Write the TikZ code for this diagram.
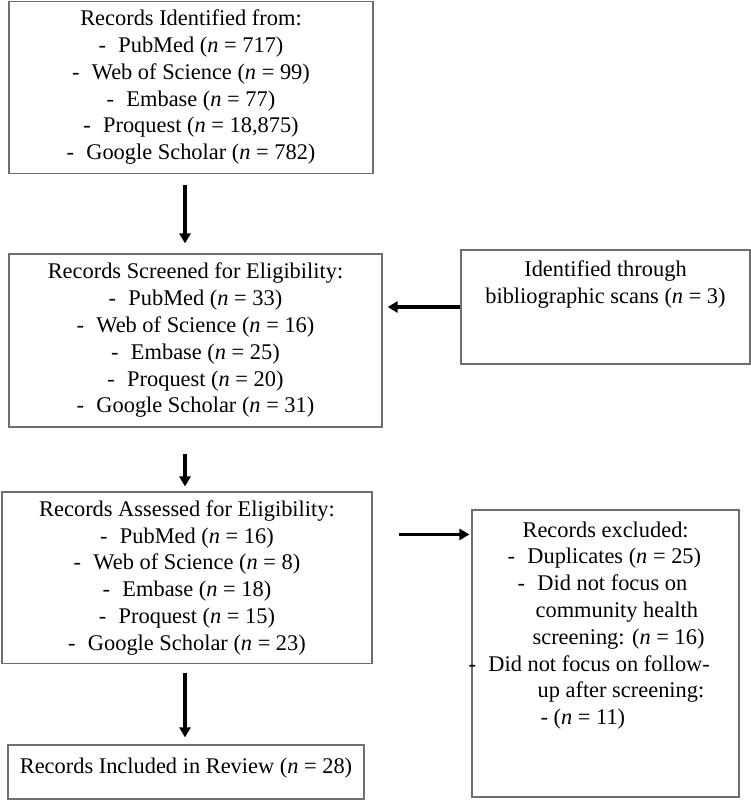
\documentclass[tikz,border=0pt]{standalone}
\usepackage{fontspec}
\setmainfont{Liberation Serif}
\usepackage{tikz}
\usetikzlibrary{arrows.meta,positioning}
\definecolor{frame}{RGB}{110,110,110}
\newcommand{\dsh}{-\hspace{0.55em}}
\newcommand{\nrec}{\textit{n}}

\begin{document}
\begin{tikzpicture}[
  x=1pt, y=-1pt,
  font=\fontsize{22.4}{26.8}\selectfont,
  box/.style={draw=frame, line width=1.2pt, inner sep=0pt, align=center},
  txt/.style={inner sep=0pt, align=center},
  arr/.style={line width=3.4pt, -{Triangle[width=11pt,length=10pt]}}
]
\useasboundingbox (0,0) rectangle (751,800);
\coordinate (spine) at (185,0);

% left column
\node[box, minimum width=364pt, minimum height=172pt] (identified) at (191,87.2) {Records Identified from:\\
  \dsh PubMed (\nrec{} = 717)\\
  \dsh Web of Science (\nrec{} = 99)\\
  \dsh Embase (\nrec{} = 77)\\
  \dsh Proquest (\nrec{} = 18,875)\\
  \dsh Google Scholar (\nrec{} = 782)};
\node[box, minimum width=373pt, minimum height=173pt] (screened) at (195.5,340.5) {Records Screened for Eligibility:\\
  \dsh PubMed (\nrec{} = 33)\\
  \dsh Web of Science (\nrec{} = 16)\\
  \dsh Embase (\nrec{} = 25)\\
  \dsh Proquest (\nrec{} = 20)\\
  \dsh Google Scholar (\nrec{} = 31)};
\node[box, minimum width=370pt, minimum height=171.5pt] (assessed) at (187,577.8) {Records Assessed for Eligibility:\\
  \dsh PubMed (\nrec{} = 16)\\
  \dsh Web of Science (\nrec{} = 8)\\
  \dsh Embase (\nrec{} = 18)\\
  \dsh Proquest (\nrec{} = 15)\\
  \dsh Google Scholar (\nrec{} = 23)};
\node[box, minimum width=356pt, minimum height=54pt] (included) at (186,772) {};
\node[txt, below=13.6pt of included.north] (inctext) {Records Included in Review (\nrec{} = 28)};

% right column
\node[box, minimum width=289pt, minimum height=114pt] (scan) at (605.5,307) {};
\node[txt, below=11pt of scan.north] (scantext) {Identified through\\bibliographic scans (\nrec{} = 3)};
\node[box, minimum width=267pt, minimum height=287pt] (excluded) at (605.5,653.5) {};
\node[txt, align=left, anchor=north west] (extext) at ([xshift=-3pt,yshift=-12pt]excluded.north west) {%
  \hspace*{54pt}Records excluded:\\
  \hspace*{39pt}\dsh Duplicates (\nrec{} = 25)\\
  \hspace*{49pt}\dsh Did not focus on\\
  \hspace*{67pt}community health\\
  \hspace*{64pt}screening: (\nrec{} = 16)\\
  \dsh Did not focus on follow-\\
  \hspace*{69pt}up after screening:\\
  \hspace*{72pt}- (\nrec{} = 11)};

% arrows
\draw[arr, shorten <=11.5pt, shorten >=10pt] (identified.south -| spine) -- (screened.north -| spine);
\draw[arr, shorten <=26pt, shorten >=5pt] (screened.south -| spine) -- (assessed.north -| spine);
\draw[arr, shorten <=8.5pt, shorten >=7pt] (assessed.south -| spine) -- (included.north -| spine);
\draw[arr, shorten >=5pt] (scan.west) -- (scan.west -| screened.east);
\draw[arr, shorten <=26pt, shorten >=2pt] ([yshift=-43pt]assessed.north east) -- ([yshift=-43pt]assessed.north east -| excluded.west);
\end{tikzpicture}
\end{document}
